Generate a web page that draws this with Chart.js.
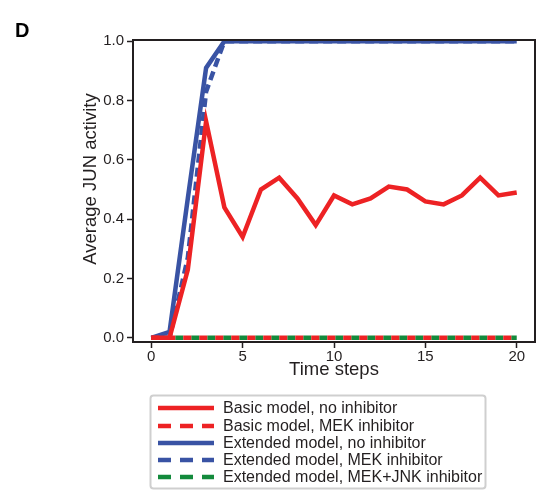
<!DOCTYPE html>
<html>
<head>
<meta charset="utf-8">
<script src="https://cdn.jsdelivr.net/npm/chart.js@4.4.0/dist/chart.umd.min.js"></script>
<style>
  html, body { margin: 0; padding: 0; background: #fff; }
  #wrap { width: 545px; height: 503px; position: relative; }
</style>
</head>
<body>
<div id="wrap"><canvas id="mycanvas" width="545" height="503"></canvas></div>
<script>
var timeSteps = [0, 1, 2, 3, 4, 5, 6, 7, 8, 9, 10, 11, 12, 13, 14, 15, 16, 17, 18, 19, 20];
var basicNoInhibitor = [0, 0, 0.23, 0.73, 0.44, 0.34, 0.50, 0.54, 0.47, 0.38, 0.48, 0.45, 0.47, 0.51, 0.50, 0.46, 0.45, 0.48, 0.54, 0.48, 0.49];
var basicMek = [0, 0, 0, 0, 0, 0, 0, 0, 0, 0, 0, 0, 0, 0, 0, 0, 0, 0, 0, 0, 0];
var extendedNoInhibitor = [0, 0.02, 0.47, 0.91, 1, 1, 1, 1, 1, 1, 1, 1, 1, 1, 1, 1, 1, 1, 1, 1, 1];
var extendedMek = [0, 0, 0.27, 0.83, 1, 1, 1, 1, 1, 1, 1, 1, 1, 1, 1, 1, 1, 1, 1, 1, 1];
var extendedMekJnk = [0, 0, 0, 0, 0, 0, 0, 0, 0, 0, 0, 0, 0, 0, 0, 0, 0, 0, 0, 0, 0];
var xTicks = [0, 5, 10, 15, 20];
var yTicks = [0, 0.2, 0.4, 0.6, 0.8, 1.0];

var RED = "#ed2224", BLUE = "#3953a4", GREEN = "#138a3c";
var FONT = "Liberation Sans, Arial, sans-serif";

function pts(arr) {
    var out = [];
    for (var i in arr) out.push({ x: timeSteps[i], y: arr[i] });
    return out;
}

// frame around plot, y title, panel letter and the boxed legend
var extras = {
    id: "extras",
    afterDraw: function (chart) {
        var c = chart.ctx, a = chart.chartArea;
        c.save();
        c.strokeStyle = "#231f20";
        c.lineWidth = 2;
        c.strokeRect(a.left, a.top, a.right - a.left, a.bottom - a.top);

        c.fillStyle = "#000";
        c.font = "bold 20px " + FONT;
        c.textBaseline = "alphabetic";
        c.fillText("D", 15, 37);

        // y axis title (sits a bit above the plot centre in the original)
        c.save();
        c.translate(91, 179);
        c.rotate(-Math.PI / 2);
        c.fillStyle = "#231f20";
        c.font = "18.5px " + FONT;
        c.textAlign = "center";
        c.textBaseline = "middle";
        c.fillText("Average JUN activity", 0, 0);
        c.restore();

        // legend
        c.strokeStyle = "#cfcfcf";
        c.lineWidth = 2;
        c.beginPath();
        c.roundRect(150.5, 395.5, 335, 93, 3);
        c.stroke();
        c.font = "16px " + FONT;
        c.textBaseline = "middle";
        var rows = [408, 426, 443, 460, 477];
        chart.data.datasets.forEach(function (ds, i) {
            var y = rows[i];
            c.strokeStyle = ds.borderColor;
            c.lineWidth = 4.5;
            c.setLineDash(ds.borderDash && ds.borderDash.length ? [13, 9] : []);
            c.beginPath();
            c.moveTo(158, y);
            c.lineTo(214, y);
            c.stroke();
            c.setLineDash([]);
            c.fillStyle = "#231f20";
            c.fillText(ds.label, 223, y + 1);
        });
        c.restore();
    }
};

var ctx = document.getElementById("mycanvas");

var lineChart = new Chart(ctx, {
    type: "line",
    data: {
        datasets: [{
            label: "Basic model, no inhibitor",
            borderColor: RED,
            data: pts(basicNoInhibitor)
        }, {
            label: "Basic model, MEK inhibitor",
            borderColor: RED,
            borderDash: [8, 8],
            data: pts(basicMek)
        }, {
            label: "Extended model, no inhibitor",
            borderColor: BLUE,
            data: pts(extendedNoInhibitor)
        }, {
            label: "Extended model, MEK inhibitor",
            borderColor: BLUE,
            borderDash: [9, 5],
            data: pts(extendedMek)
        }, {
            label: "Extended model, MEK+JNK inhibitor",
            borderColor: GREEN,
            borderDash: [8, 8],
            borderDashOffset: 8,
            data: pts(extendedMekJnk)
        }]
    },
    plugins: [extras],
    options: {
        responsive: false,
        animation: false,
        layout: { padding: { left: 0, right: 10, top: 40, bottom: 111 } },
        elements: {
            line: { borderWidth: 4.5, tension: 0, fill: false },
            point: { radius: 0 }
        },
        datasets: { line: { clip: false } },
        plugins: {
            legend: { display: false },
            tooltip: { enabled: false }
        },
        scales: {
            x: {
                type: "linear",
                min: -1,
                max: 21,
                afterBuildTicks: function (s) { s.ticks = xTicks.map(function (v) { return { value: v }; }); },
                afterFit: function (s) { s.height = 50; },
                grid: { drawOnChartArea: false, tickLength: 6, color: "#231f20", tickWidth: 1.5 },
                border: { display: false },
                ticks: { color: "#231f20", font: { family: FONT, size: 15 }, padding: 0, maxRotation: 0 },
                title: { display: true, text: "Time steps", color: "#231f20", font: { family: FONT, size: 18.5 }, padding: { top: 0, bottom: 11 } }
            },
            y: {
                min: -0.014,
                max: 1.004,
                afterBuildTicks: function (s) { s.ticks = yTicks.map(function (v) { return { value: v }; }); },
                afterFit: function (s) { s.width = 133; },
                grid: { drawOnChartArea: false, tickLength: 6, color: "#231f20", tickWidth: 1.5 },
                border: { display: false },
                ticks: {
                    color: "#231f20", font: { family: FONT, size: 15 }, padding: 3,
                    callback: function (v) { return v.toFixed(1); }
                },
                title: { display: false }
            }
        }
    }
});
</script>
</body>
</html>
